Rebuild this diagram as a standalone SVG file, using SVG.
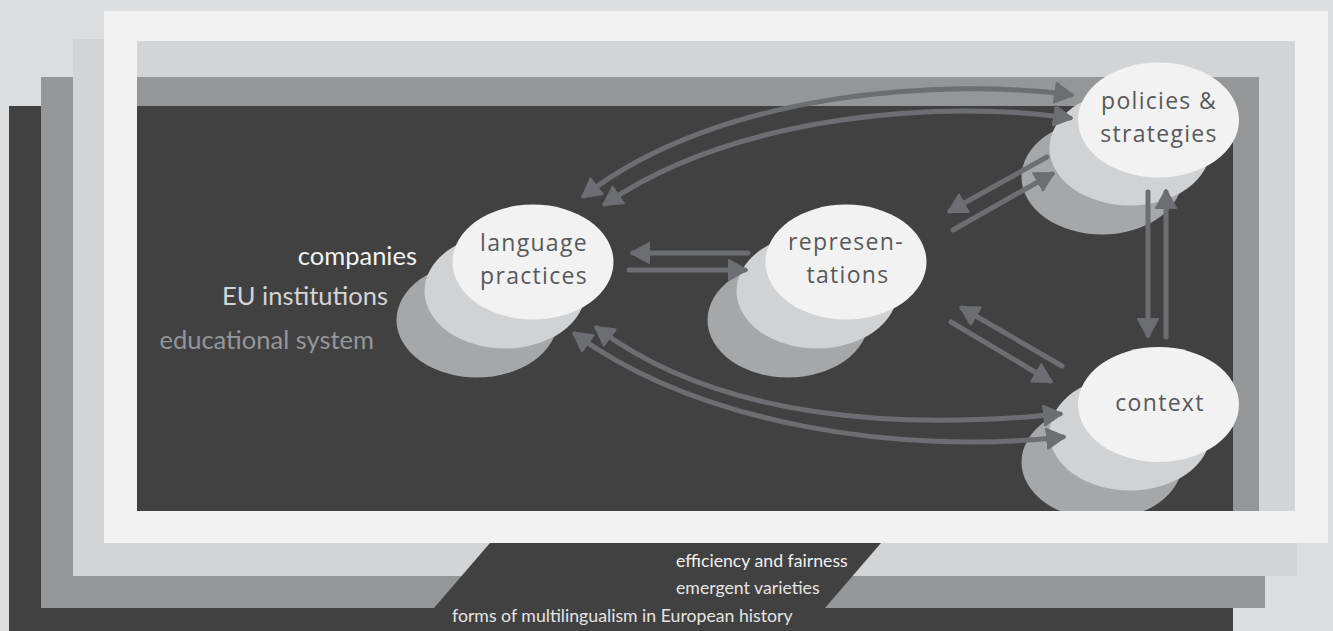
<svg xmlns="http://www.w3.org/2000/svg" width="1333" height="631" viewBox="0 0 1333 631">
<defs>
<style>
.bg{fill:#dddee0}
.dk{fill:#414141}
.md{fill:#959698;fill-rule:evenodd}
.lt{fill:#d3d4d6;fill-rule:evenodd}
.wh{fill:#f2f2f2;fill-rule:evenodd}
.e1{fill:#a6a7a9}
.e2{fill:#d1d2d4}
.e3{fill:#f2f2f2}
.nt{font-family:"Open Sans","DejaVu Sans",sans-serif;font-size:23px;fill:#58595b;text-anchor:middle;letter-spacing:1.3px}
.lb{font-family:Lato,"Liberation Sans",sans-serif;font-size:25.5px;text-anchor:end}
.bt{font-family:Lato,"Liberation Sans",sans-serif;font-size:17.7px}
.ar{fill:none;stroke:#6d6e71;stroke-width:5;stroke-linecap:round;marker-end:url(#ah)}
.ar2{marker-start:url(#ah)}
</style>
<marker id="ah" viewBox="0 0 20 22" refX="17" refY="11" markerWidth="20" markerHeight="22" markerUnits="userSpaceOnUse" orient="auto-start-reverse">
<path d="M1,1 L19,11 L1,21 Z" fill="#6d6e71" stroke="#6d6e71" stroke-width="2" stroke-linejoin="round"/>
</marker>
</defs>
<rect class="bg" x="0" y="0" width="1333" height="631"/>
<g id="frames">
<rect class="dk" x="9" y="106" width="1224" height="540"/>
<path class="md" d="M41,77 H1265 V608 H41 Z M73,106 V576 H1233 V106 Z"/>
<path class="lt" d="M73,39 H1297 V576 H73 Z M104,77 V543 H1259 V77 Z"/>
<path class="dk" d="M490,543 L881,543 L825,608 L434,608 Z"/>
</g>
<g id="bottom-labels">
<text class="bt" x="676" y="567" fill="#f0f0f0">efficiency and fairness</text>
<text class="bt" x="676" y="594" fill="#e4e4e4">emergent varieties</text>
<text class="bt" x="452" y="622" fill="#e4e4e4">forms of multilingualism in European history</text>
</g>
<g id="actors">
<text class="lb" x="417" y="265" fill="#f2f2f2">companies</text>
<text class="lb" x="388" y="305" fill="#d3d4d6">EU institutions</text>
<text class="lb" x="374" y="349" fill="#959698">educational system</text>
</g>
<g id="node-language-practices">
<ellipse class="e1" cx="477" cy="320" rx="80.5" ry="57.5"/>
<ellipse class="e2" cx="505" cy="291" rx="80.5" ry="57.5"/>
<ellipse class="e3" cx="533" cy="262" rx="80.5" ry="57.5"/>
<text class="nt" x="534" y="251">language</text>
<text class="nt" x="534" y="284">practices</text>
</g>
<g id="node-representations">
<ellipse class="e1" cx="788" cy="320" rx="80.5" ry="57.5"/>
<ellipse class="e2" cx="817" cy="291" rx="80.5" ry="57.5"/>
<ellipse class="e3" cx="846" cy="262" rx="80.5" ry="57.5"/>
<text class="nt" x="846" y="250">represen-</text>
<text class="nt" x="848" y="283">tations</text>
</g>
<g id="node-policies">
<ellipse class="e1" cx="1102" cy="177" rx="80.5" ry="57.5"/>
<ellipse class="e2" cx="1130" cy="148" rx="80.5" ry="57.5"/>
<ellipse class="e3" cx="1158.5" cy="120" rx="80.5" ry="57.5"/>
<text class="nt" x="1159" y="109">policies &amp;</text>
<text class="nt" x="1159" y="142">strategies</text>
</g>
<g id="node-context">
<ellipse class="e1" cx="1102" cy="462" rx="80.5" ry="57.5"/>
<ellipse class="e2" cx="1130" cy="433" rx="80.5" ry="57.5"/>
<ellipse class="e3" cx="1158.5" cy="404.5" rx="80.5" ry="57.5"/>
<text class="nt" x="1160" y="411">context</text>
</g>
<g id="connectors">
<path class="ar" d="M748,253 L633,253"/>
<path class="ar" d="M629,270 L745,270"/>
<path class="ar" d="M1047,157 L950,211"/>
<path class="ar" d="M953,230 L1052,174"/>
<path class="ar" d="M1148,192 L1148,335"/>
<path class="ar" d="M1166,337 L1166,192"/>
<path class="ar" d="M1062,366 L962,308"/>
<path class="ar" d="M951,322 L1050,381"/>
<path class="ar ar2" d="M584,196 C720,90 950,78 1071,95"/>
<path class="ar ar2" d="M605,204 C740,112 950,100 1070,118"/>
<path class="ar ar2" d="M597,328 C720,420 900,430 1060,414"/>
<path class="ar ar2" d="M575,334 C700,425 900,455 1063,437"/>
</g>
<path id="front-frame" class="wh" d="M104,11 H1328 V543 H104 Z M137,41 V511 H1295 V41 Z"/>
</svg>
